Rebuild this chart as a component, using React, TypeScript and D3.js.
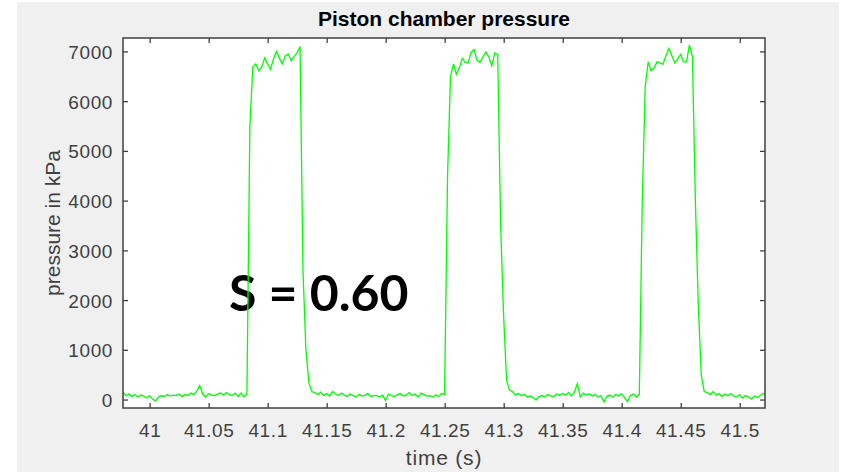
import React from "react";
import * as d3 from "d3";

const chartTitle = "Piston chamber pressure";
const xAxisLabel = "time (s)";
const yAxisLabel = "pressure in kPa";
const annotation = "S = 0.60";

// sampled pressure signal, one sample every 2.5 ms
const sampleStart = 40.977;
const sampleStep = 0.0025;

const baselineA = [
  160, 90, 120, 70, 110, 60, 100, 80, 40, 90, 20, -20, 60, 90, 70, 110, 80, 100, 90, 120, 70, 110,
  90, 140, 110, 180, 290, 120, 60, 130, 100, 90, 120, 140, 100, 150, 110, 90, 140, 70, 140, 60, 120,
];
const pulseA = [
  5500, 6700, 6760, 6620, 6690, 6880, 6760, 6650, 6860, 7010, 6880, 6760, 6920, 6960, 6820, 6910,
  6980, 7110, 2600, 1000, 350, 170,
];
const baselineB = [
  150, 110, 160, 90, 130, 80, 170, 120, 90, 140, 100, 70, 120, 90, 60, 110, 80, 100, 130, 70, 90,
  90, 60, 100, -10, 120, 90, 70, 110, 130, 80, 100, 150, 90, 120, 60, 140, 110, 80, 90, 60, 100, 70,
  130, 110,
];
const pulseB = [
  4500, 6500, 6760, 6550, 6680, 6870, 6790, 6780, 6990, 7050, 6830, 6790, 6900, 7000, 6900, 6720,
  6980, 6950, 3500, 1700, 400, 200,
];
const baselineC = [
  170, 100, 130, 90, 110, 60, 80, 50, 0, 70, 90, 60, 110, 80, 70, 120, 90, 130, 100, 150, 80, 160,
  330, 60, 140, 100, 120, 80, 110, 60, 90, -40, 70, 100, 60, 110, 80, 130, 50, -30, 90, 120, 60, 110,
];
const pulseC = [
  4000, 6300, 6800, 6620, 6680, 6800, 6780, 6750, 6920, 7070, 6930, 6780, 6860, 6950, 6800, 6800,
  7140, 6900, 4000, 1900, 500, 170,
];
const baselineD = [150, 110, 170, 100, 130, 70, 120, 90, 130, 80, 60, 110, 40, 90, 60, 20, 80, 50, 90, 130, 110];

const pressure = [...baselineA, ...pulseA, ...baselineB, ...pulseB, ...baselineC, ...pulseC, ...baselineD];

const xTicks = [41, 41.05, 41.1, 41.15, 41.2, 41.25, 41.3, 41.35, 41.4, 41.45, 41.5];
const xTickLabels = ["41", "41.05", "41.1", "41.15", "41.2", "41.25", "41.3", "41.35", "41.4", "41.45", "41.5"];
const yTicks = [0, 1000, 2000, 3000, 4000, 5000, 6000, 7000];

const W = 844;
const H = 472;
const plot = { left: 123, top: 38, right: 765, bottom: 408 };
const axisColor = "#404040";
const font = "'Liberation Sans', Arial, sans-serif";

const App = () => {
  const points = pressure.map((p, i) => [sampleStart + i * sampleStep, p] as [number, number]);

  const x = d3.scaleLinear().domain([40.977, 41.521]).range([plot.left, plot.right]);
  const y = d3.scaleLinear().domain([-160, 7280]).range([plot.bottom, plot.top]);

  const line = d3
    .line<[number, number]>()
    .x((d) => x(d[0]))
    .y((d) => y(d[1]));

  const tickLen = 5;
  const cx = (plot.left + plot.right) / 2;
  const cy = (plot.top + plot.bottom) / 2;

  return (
    <svg width={W} height={H} style={{ position: "absolute", left: 0, top: 0, display: "block" }}>
      <rect x={0} y={0} width={W} height={H} fill="#ffffff" />
      <rect x={17} y={2} width={822} height={H - 2} fill="#f0f0f0" />
      <rect x={plot.left} y={plot.top} width={plot.right - plot.left} height={plot.bottom - plot.top} fill="#ffffff" />

      <defs>
        <clipPath id="plot-clip">
          <rect x={plot.left} y={plot.top} width={plot.right - plot.left} height={plot.bottom - plot.top} />
        </clipPath>
      </defs>

      <text x={229} y={311} fontFamily="Lato, 'Open Sans', sans-serif" fontWeight={700} fontSize={50} fill="#000">
        {annotation}
      </text>

      <path d={line(points) ?? ""} fill="none" stroke="#00ff00" strokeWidth={1.3} clipPath="url(#plot-clip)" />

      {/* x ticks, bottom and top */}
      {xTicks.map((t, i) => (
        <g key={"x" + i}>
          <line x1={x(t)} x2={x(t)} y1={plot.bottom} y2={plot.bottom - tickLen} stroke={axisColor} strokeWidth={1.3} />
          <line x1={x(t)} x2={x(t)} y1={plot.top} y2={plot.top + tickLen} stroke={axisColor} strokeWidth={1.3} />
          <text
            x={x(t)}
            y={plot.bottom + 29}
            textAnchor="middle"
            fontFamily={font}
            fontSize={19}
            letterSpacing={0.6}
            fill={axisColor}
          >
            {xTickLabels[i]}
          </text>
        </g>
      ))}

      {/* y ticks, left and right */}
      {yTicks.map((v) => (
        <g key={"y" + v}>
          <line x1={plot.left} x2={plot.left + tickLen} y1={y(v)} y2={y(v)} stroke={axisColor} strokeWidth={1.3} />
          <line x1={plot.right} x2={plot.right - tickLen} y1={y(v)} y2={y(v)} stroke={axisColor} strokeWidth={1.3} />
          <text
            x={plot.left - 10}
            y={y(v) + 7}
            textAnchor="end"
            fontFamily={font}
            fontSize={19}
            letterSpacing={0.6}
            fill={axisColor}
          >
            {v}
          </text>
        </g>
      ))}

      <rect
        x={plot.left}
        y={plot.top}
        width={plot.right - plot.left}
        height={plot.bottom - plot.top}
        fill="none"
        stroke={axisColor}
        strokeWidth={1.5}
      />

      <text x={cx} y={26} textAnchor="middle" fontFamily={font} fontWeight={700} fontSize={21} fill="#000">
        {chartTitle}
      </text>
      <text x={cx} y={465} textAnchor="middle" fontFamily={font} fontSize={21} letterSpacing={0.8} fill={axisColor}>
        {xAxisLabel}
      </text>
      <text
        transform={`translate(60, ${cy}) rotate(-90)`}
        textAnchor="middle"
        fontFamily={font}
        fontSize={21}
        fill={axisColor}
      >
        {yAxisLabel}
      </text>
    </svg>
  );
};

export default App;
